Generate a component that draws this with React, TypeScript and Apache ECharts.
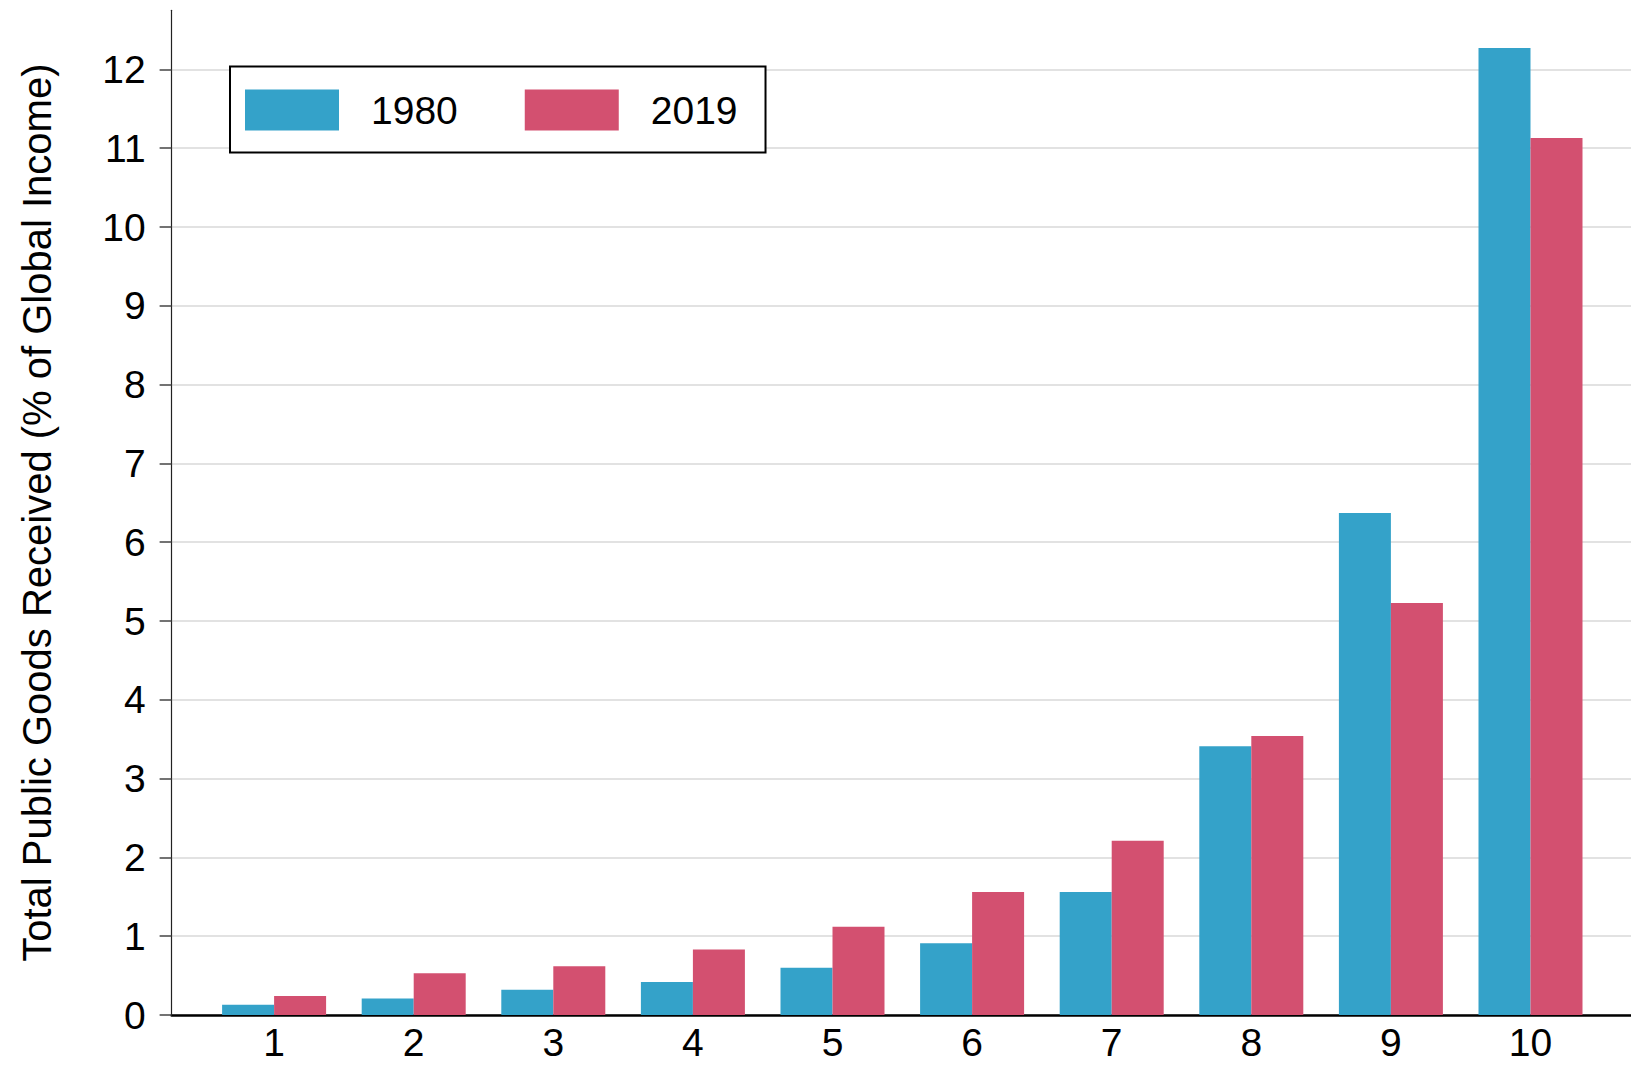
import React, { useEffect, useRef } from "react";
import * as echarts from "echarts";

const categories = ["1", "2", "3", "4", "5", "6", "7", "8", "9", "10"];
const values1980 = [0.13, 0.21, 0.32, 0.42, 0.6, 0.91, 1.56, 3.41, 6.37, 12.27];
const values2019 = [0.24, 0.53, 0.62, 0.83, 1.12, 1.56, 2.21, 3.54, 5.23, 11.13];
const seriesNames = ["1980", "2019"];
const yAxisTitle = "Total Public Goods Received (% of Global Income)";

const FONT = "'Liberation Sans', Arial, Helvetica, sans-serif";
const BLUE = "#34A2C9";
const RED = "#D35070";

export default function App() {
  const ref = useRef<HTMLDivElement>(null);
  useEffect(() => {
    if (!ref.current) return;
    const chart = echarts.init(ref.current, null, { renderer: "svg" });
    const zeroY = 1015;
    const unit = 78.8;
    const top0 = zeroY - 12 * unit;
    const top1 = zeroY - 12.75 * unit;
    const bottom = 1065 - zeroY;
    const axisX = 171.6;
    const catLeft = 204.3;
    chart.setOption({
      animation: false,
      backgroundColor: "#fff",
      textStyle: { fontFamily: FONT },
      grid: [
        { left: axisX, right: 0, top: top0, bottom: bottom },
        { left: catLeft, right: 30.7, top: top1, bottom: bottom },
      ],
      legend: {
        data: seriesNames,
        left: 230,
        top: 66.6,
        orient: "horizontal",
        icon: "rect",
        itemWidth: 94,
        itemHeight: 41,
        itemGap: 67,
        padding: [23, 28, 22, 15],
        borderColor: "#000",
        borderWidth: 2,
        borderRadius: 0,
        backgroundColor: "#fff",
        textStyle: {
          fontFamily: FONT,
          fontSize: 39,
          color: "#000",
          padding: [0, 0, 0, 27],
        },
      },
      xAxis: [
        {
          gridIndex: 0,
          type: "value",
          min: 0,
          max: 1,
          axisLine: { show: true, onZero: true, lineStyle: { color: "#000", width: 2.5 } },
          axisTick: { show: false },
          axisLabel: { show: false },
          splitLine: { show: false },
        },
        {
          gridIndex: 1,
          type: "category",
          data: categories,
          axisLine: { show: false },
          axisTick: { show: false },
          axisLabel: {
            fontFamily: FONT,
            fontSize: 39,
            lineHeight: 36,
            color: "#000",
            margin: 9,
          },
          splitLine: { show: false },
        },
      ],
      yAxis: [
        {
          gridIndex: 0,
          type: "value",
          min: 0,
          max: 12,
          interval: 1,
          axisLine: { show: false },
          axisTick: { show: true, length: 12, lineStyle: { color: "#444", width: 1.5 } },
          axisLabel: {
            fontFamily: FONT,
            fontSize: 39,
            color: "#000",
            margin: 26,
          },
          splitLine: { show: true, lineStyle: { color: "#d9d9d9", width: 1.5 } },
        },
        {
          gridIndex: 1,
          type: "value",
          min: 0,
          max: 12.75,
          offset: catLeft - axisX,
          axisLine: { show: true, lineStyle: { color: "#222", width: 1.2 } },
          axisTick: { show: false },
          axisLabel: { show: false },
          splitLine: { show: false },
          name: yAxisTitle,
          nameLocation: "middle",
          nameGap: 115,
          nameTextStyle: { fontFamily: FONT, fontSize: 40, color: "#000" },
        },
      ],
      series: [
        {
          name: seriesNames[0],
          type: "bar",
          xAxisIndex: 1,
          yAxisIndex: 1,
          data: values1980,
          barWidth: 52,
          barGap: "0%",
          itemStyle: { color: BLUE },
        },
        {
          name: seriesNames[1],
          type: "bar",
          xAxisIndex: 1,
          yAxisIndex: 1,
          data: values2019,
          barWidth: 52,
          barGap: "0%",
          itemStyle: { color: RED },
        },
      ],
    });
    return () => chart.dispose();
  }, []);
  return (
    <div
      ref={ref}
      style={{ position: "absolute", left: 0, top: 0, width: 1631, height: 1065, background: "#fff" }}
    />
  );
}
